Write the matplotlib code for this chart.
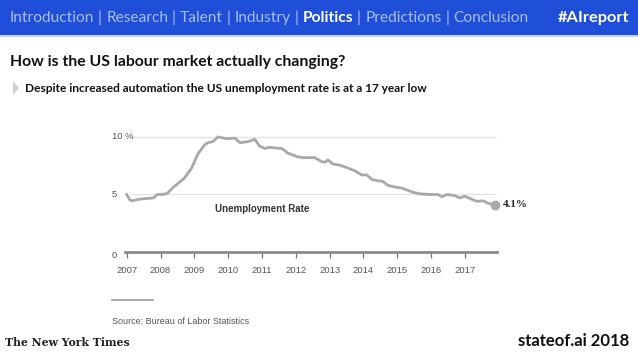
import matplotlib
matplotlib.use("Agg")
import matplotlib.pyplot as plt
from matplotlib.patches import Rectangle, Polygon

# --- datos (tasa de desempleo EEUU, %) ---
anios = [2007.0, 2007.09, 2007.15, 2007.4, 2007.8, 2007.9, 2008.07, 2008.2,
         2008.37, 2008.57, 2008.7, 2008.92, 2009.1, 2009.3, 2009.4, 2009.55,
         2009.7, 2009.96, 2010.2, 2010.35, 2010.6, 2010.79, 2010.93, 2011.08,
         2011.23, 2011.38, 2011.59, 2011.76, 2012.03, 2012.2, 2012.56, 2012.77,
         2012.86, 2012.95, 2013.1, 2013.3, 2013.54, 2013.75, 2013.95, 2014.1,
         2014.25, 2014.4, 2014.57, 2014.72, 2014.93, 2015.14, 2015.28, 2015.46,
         2015.67, 2015.96, 2016.2, 2016.32, 2016.47, 2016.7, 2016.85, 2017.0,
         2017.15, 2017.35, 2017.53, 2017.68, 2017.89]
tasa = [5.0, 4.55, 4.45, 4.6, 4.7, 5.0, 5.0, 5.1,
        5.6, 6.1, 6.4, 7.3, 8.5, 9.3, 9.5, 9.6,
        10.0, 9.85, 9.9, 9.5, 9.6, 9.8, 9.2, 9.0,
        9.1, 9.05, 9.0, 8.6, 8.3, 8.2, 8.2, 7.85,
        7.8, 8.0, 7.65, 7.55, 7.3, 7.05, 6.7, 6.7,
        6.3, 6.2, 6.15, 5.8, 5.65, 5.55, 5.4, 5.2,
        5.05, 5.0, 5.0, 4.8, 5.0, 4.9, 4.7, 4.85,
        4.65, 4.4, 4.45, 4.25, 4.1]
anios_ticks = list(range(2007, 2018))
y_ticks = [0, 5, 10]
y_labels = ["0", "5", "10 %"]

secciones = ["Introduction", "Research", "Talent", "Industry", "Politics",
             "Predictions", "Conclusion"]
seccion_activa = "Politics"

AZUL = "#1f4fd8"
GRIS_LINEA = "#a9a9a9"
FUENTE = "Lato"
FUENTE_NYT = "Liberation Sans"
W, H = 638, 359

fig = plt.figure(figsize=(W / 100, H / 100), dpi=100)
fig.patch.set_facecolor("white")

# Barra superior
fig.patches.append(Rectangle((0, 1 - 35 / H), 1, 35 / H, transform=fig.transFigure,
                             facecolor=AZUL, edgecolor="none", zorder=0))
fig.patches.append(Rectangle((0, 1 - 37 / H), 1, 2 / H, transform=fig.transFigure,
                             facecolor="#c8d6f5", edgecolor="none", zorder=0))

renderer = fig.canvas.get_renderer()
x = 10 / W
y_nav = 1 - 18 / H
for i, sec in enumerate(secciones):
    activo = sec == seccion_activa
    t = fig.text(x, y_nav, sec, family=FUENTE, fontsize=11.2,
                 fontweight="bold" if activo else "normal",
                 color="white" if activo else "#a8bdf0", va="center", ha="left")
    x = t.get_window_extent(renderer).x1 / W
    if i < len(secciones) - 1:
        t = fig.text(x, y_nav, " | ", family=FUENTE, fontsize=11.2,
                     color="#a8bdf0", va="center", ha="left")
        x = t.get_window_extent(renderer).x1 / W

fig.text(629 / W, y_nav, "#AIreport", family=FUENTE, fontsize=11.8,
         fontweight="bold", color="white", va="center", ha="right")

# Titulos
fig.text(10 / W, 1 - 62 / H, "How is the US labour market actually changing?",
         family=FUENTE, fontsize=11.3, fontweight="bold", color="#111111",
         va="center", ha="left")
fig.patches.append(Polygon([(13 / W, 1 - 81 / H), (13 / W, 1 - 95 / H),
                            (19 / W, 1 - 88 / H)], closed=True,
                           transform=fig.transFigure, facecolor="#d0d0d0",
                           edgecolor="none"))
fig.text(25 / W, 1 - 88 / H,
         "Despite increased automation the US unemployment rate is at a 17 year low",
         family=FUENTE, fontsize=8.6, fontweight="bold", color="#111111",
         va="center", ha="left")

# Grafico
x0, x1 = 125, 497
ax = fig.add_axes([x0 / W, (H - 252) / H, (x1 - x0) / W, 118.5 / H])
ax.set_xlim(2006.95, 2017.95)
ax.set_ylim(0, 10.3)
for s in ax.spines.values():
    s.set_visible(False)
ax.set_facecolor("none")

ax.hlines([5, 10], 2007.1, 2017.95, color="#e3e3e3", lw=0.9, zorder=1)
ax.axhline(0, color="#8c8c8c", lw=2.0, zorder=2, clip_on=False)

ax.plot(anios, tasa, color=GRIS_LINEA, lw=2.0, zorder=3, solid_joinstyle="round")
ax.plot(anios[-1], tasa[-1], "o", color=GRIS_LINEA, ms=6, zorder=4, clip_on=False)
ax.annotate(f"{tasa[-1]}%", (anios[-1], tasa[-1]), xytext=(6, 0),
            textcoords="offset points", va="center", ha="left",
            family="Liberation Serif", fontsize=8, fontweight="bold", color="#222222")
ax.text(2011.0, 3.7, "Unemployment Rate", family=FUENTE_NYT, fontsize=7,
        fontweight="bold", color="#333333", ha="center", va="center")

ax.set_xticks(anios_ticks)
ax.set_xticklabels([str(a) for a in anios_ticks])
ax.set_yticks([])
ax.tick_params(axis="x", length=4, width=0.9, color="#777777", pad=6,
               labelsize=6.8, labelcolor="#555555")
for lab in ax.get_xticklabels():
    lab.set_family(FUENTE_NYT)

# etiquetas del eje y alineadas a la izquierda, como en el original
x_lab = (112 - x0) / (x1 - x0)
for yv, lab in zip(y_ticks, y_labels):
    ax.text(x_lab, yv - (0.3 if yv == 0 else 0), lab,
            transform=ax.get_yaxis_transform(), family=FUENTE_NYT,
            fontsize=6.8, color="#555555", ha="left", va="center")

# Fuente y pie
fig.add_artist(plt.Line2D([112 / W, 153 / W], [1 - 300 / H, 1 - 300 / H],
                          transform=fig.transFigure, color="#9a9a9a", lw=1.2))
fig.text(112 / W, 1 - 322 / H, "Source: Bureau of Labor Statistics",
         family=FUENTE_NYT, fontsize=6.5, color="#555555", va="center", ha="left")
fig.text(5 / W, 1 - 343 / H, "The New York Times", family="DejaVu Serif",
         fontsize=7.8, fontweight="bold", color="#222222", va="center", ha="left")
fig.text(629 / W, 1 - 341 / H, "stateof.ai 2018", family=FUENTE,
         fontsize=12, fontweight="bold", color="#111111", va="center", ha="right")

fig.savefig("out.png", dpi=100)
